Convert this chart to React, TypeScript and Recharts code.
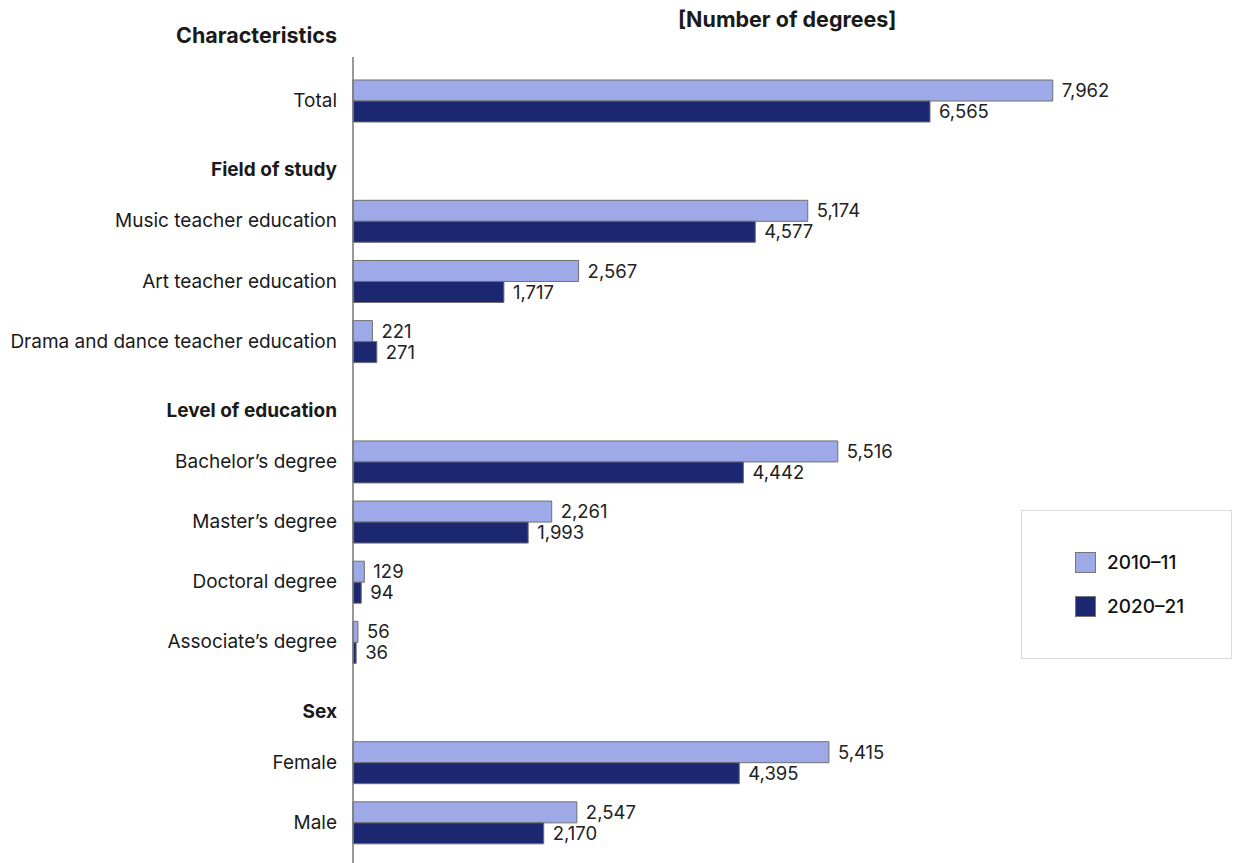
import React from 'react';
import { BarChart, Bar, XAxis, YAxis, LabelList } from 'recharts';

const categories = [
  'Total',
  'Field of study',
  'Music teacher education',
  'Art teacher education',
  'Drama and dance teacher education',
  'Level of education',
  'Bachelor\u2019s degree',
  'Master\u2019s degree',
  'Doctoral degree',
  'Associate\u2019s degree',
  'Sex',
  'Female',
  'Male',
];
const headers = ['Field of study', 'Level of education', 'Sex'];
const values2010 = [7962, null, 5174, 2567, 221, null, 5516, 2261, 129, 56, null, 5415, 2547];
const values2020 = [6565, null, 4577, 1717, 271, null, 4442, 1993, 94, 36, null, 4395, 2170];
const seriesNames = ['2010\u201311', '2020\u201321'];
const seriesColors = ['#9EAAE8', '#1B2771'];

const data = categories.map((name, i) => ({ name, v1: values2010[i], v2: values2020[i] }));

const FONT = 'Inter, "Noto Sans", sans-serif';

const YTick = (props: any) => {
  const { x, y, payload } = props;
  const isHeader = headers.includes(payload.value);
  return (
    <text
      x={x}
      y={y + (isHeader ? 9 : 0)}
      dy={6}
      textAnchor="end"
      fontFamily={FONT}
      fontSize={19}
      fontWeight={isHeader ? 700 : 400}
      fill="#1a1a1a"
    >
      {payload.value}
    </text>
  );
};

const fmt = (v: any) => (v == null ? '' : Number(v).toLocaleString('en-US'));

const LegendBox = () => (
  <div
    style={{
      position: 'absolute',
      left: 1021,
      top: 510,
      width: 211,
      height: 149,
      border: '1px solid #d9d9d9',
      boxSizing: 'border-box',
      display: 'flex',
      flexDirection: 'column',
      justifyContent: 'center',
      paddingLeft: 53,
      gap: 21,
      fontFamily: FONT,
    }}
  >
    {seriesNames.map((n, i) => (
      <div key={n} style={{ display: 'flex', alignItems: 'center' }}>
        <div
          style={{
            width: 21,
            height: 21,
            background: seriesColors[i],
            border: '1px solid #777',
            boxSizing: 'border-box',
            marginRight: 11,
          }}
        />
        <span style={{ fontSize: 19, fontWeight: 500, color: '#111' }}>{n}</span>
      </div>
    ))}
  </div>
);

export default function App() {
  return (
    <div style={{ position: 'absolute', left: 0, top: 0, width: 1235, height: 863, background: '#fff' }}>
      <div
        style={{
          position: 'absolute',
          right: 1235 - 337,
          top: 22,
          fontFamily: FONT,
          fontWeight: 700,
          fontSize: 21.5,
          color: '#1a1a1a',
          whiteSpace: 'nowrap',
        }}
      >
        Characteristics
      </div>
      <div
        style={{
          position: 'absolute',
          left: 678,
          top: 6,
          fontFamily: FONT,
          fontWeight: 700,
          fontSize: 21.5,
          color: '#1a1a1a',
          whiteSpace: 'nowrap',
        }}
      >
        [Number of degrees]
      </div>
      <BarChart
        width={1235}
        height={863}
        data={data}
        layout="vertical"
        margin={{ top: 57, right: 91, bottom: 0, left: 0 }}
        barGap={0}
      >
        <XAxis type="number" domain={[0, 9000]} hide />
        <YAxis
          type="category"
          dataKey="name"
          width={353}
          tickLine={false}
          axisLine={{ stroke: '#777', strokeWidth: 1.5 }}
          tickMargin={10}
          tick={<YTick />}
          padding={{ top: 14, bottom: 10 }}
          interval={0}
        />
        <Bar dataKey="v1" name={seriesNames[0]} fill={seriesColors[0]} stroke="#6f6f6f" strokeWidth={1} barSize={21} isAnimationActive={false}>
          <LabelList dataKey="v1" position="right" offset={9} formatter={fmt} fontFamily={FONT} fontSize={18.5} fill="#222" />
        </Bar>
        <Bar dataKey="v2" name={seriesNames[1]} fill={seriesColors[1]} stroke="#6f6f6f" strokeWidth={1} barSize={21} isAnimationActive={false}>
          <LabelList dataKey="v2" position="right" offset={9} formatter={fmt} fontFamily={FONT} fontSize={18.5} fill="#222" />
        </Bar>
      </BarChart>
      <LegendBox />
    </div>
  );
}
